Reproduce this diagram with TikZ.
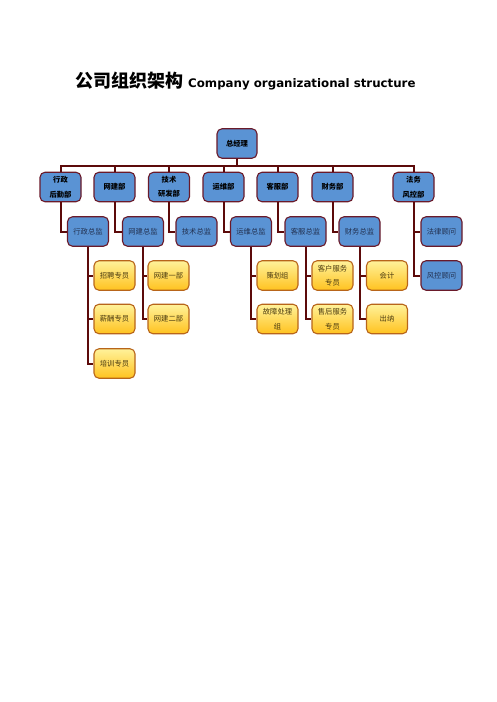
\documentclass[tikz,border=0pt]{standalone}
\usepackage{fontspec}
\newfontfamily\cjk{Noto Sans CJK SC}
\newfontfamily\latinbold{DejaVu Sans}
\usetikzlibrary{positioning}
\definecolor{bluefill}{HTML}{5A93D4}
\definecolor{boxedge}{HTML}{6A1A2A}
\definecolor{connc}{HTML}{5C0A0A}
\definecolor{yeltop}{HTML}{FFF29A}
\definecolor{yelbot}{HTML}{FFC21F}
\definecolor{yeledge}{HTML}{B8651A}
\definecolor{midtext}{HTML}{22304F}
\definecolor{yeltext}{HTML}{4A3A10}
\tikzset{
  basebox/.style={rounded corners=5pt, line width=1.1pt, minimum width=41pt,
    minimum height=29.5pt, inner sep=1pt, align=center,
    font=\cjk\fontsize{7.3}{14.5}\selectfont},
  topbox/.style={basebox, draw=boxedge, fill=bluefill, text=black,
    font=\cjk\bfseries\fontsize{7.3}{14.5}\selectfont, minimum width=40pt},
  deptbox/.style={basebox, draw=boxedge, fill=bluefill, text=black,
    font=\cjk\bfseries\fontsize{7.3}{14.5}\selectfont},
  mgrbox/.style={basebox, draw=boxedge, fill=bluefill, text=midtext},
  staffbox/.style={basebox, draw=yeledge, top color=yeltop, bottom color=yelbot, text=yeltext},
  conn/.style={draw=connc, line width=2pt},
}
\begin{document}
\begin{tikzpicture}[x=1pt,y=-1pt]
\useasboundingbox[fill=white] (0,0) rectangle (496,702);
% title
\node[anchor=west, inner sep=0pt] (title) at (75,81.5)
  {{\cjk\bfseries\fontsize{18}{20}\selectfont 公司组织架构}\hspace{5pt}{\latinbold\bfseries\fontsize{11.8}{13}\selectfont Company organizational structure}};
% top
\node[topbox] (ceo) at (237,143.5) {总经理};
\coordinate (bus) at (0,166);
% level 1
\node[deptbox] (d1) at (60.5,187) {行政\\后勤部};
\node[deptbox] (d2) at (114.5,187) {网建部};
\node[deptbox] (d3) at (169,187) {技术\\研发部};
\node[deptbox] (d4) at (223.5,187) {运维部};
\node[deptbox] (d5) at (277.5,187) {客服部};
\node[deptbox] (d6) at (332.5,187) {财务部};
\node[deptbox] (d7) at (413.5,187) {法务\\风控部};
% level 2
\node[mgrbox] (m1) at (88,231.5) {行政总监};
\node[mgrbox] (m2) at (143,231.5) {网建总监};
\node[mgrbox] (m3) at (196.5,231.5) {技术总监};
\node[mgrbox] (m4) at (251,231.5) {运维总监};
\node[mgrbox] (m5) at (305.5,231.5) {客服总监};
\node[mgrbox] (m6) at (359.5,231.5) {财务总监};
\node[mgrbox] (m7) at (441.5,231.5) {法律顾问};
\node[mgrbox] (m8) at (441.5,275.5) {风控顾问};
% level 3
\node[staffbox] (s11) at (114.5,275.5) {招聘专员};
\node[staffbox] (s12) at (114.5,319) {薪酬专员};
\node[staffbox] (s13) at (114.5,363.5) {培训专员};
\node[staffbox] (s21) at (168.5,275.5) {网建一部};
\node[staffbox] (s22) at (168.5,319) {网建二部};
\node[staffbox] (s41) at (277.5,275.5) {策划组};
\node[staffbox] (s42) at (277.5,319) {故障处理\\组};
\node[staffbox] (s51) at (332.5,275.5) {客户服务\\专员};
\node[staffbox] (s52) at (332.5,319) {售后服务\\专员};
\node[staffbox] (s61) at (387,275.5) {会计};
\node[staffbox] (s62) at (387,319) {出纳};
% connectors
\foreach \d in {d1,d2,d3,d4,d5,d6,d7}
  \draw[conn] (ceo.south) -- (ceo.south |- bus) -| (\d.north);
\foreach \d/\m in {d1/m1,d2/m2,d3/m3,d4/m4,d5/m5,d6/m6,d7/m7,d7/m8}
  \draw[conn] (\d.south) |- (\m.west);
\foreach \m/\s in {m1/s11,m1/s12,m1/s13,m2/s21,m2/s22,m4/s41,m4/s42,m5/s51,m5/s52,m6/s61,m6/s62}
  \draw[conn] (\m.south) |- (\s.west);
\end{tikzpicture}
\end{document}
